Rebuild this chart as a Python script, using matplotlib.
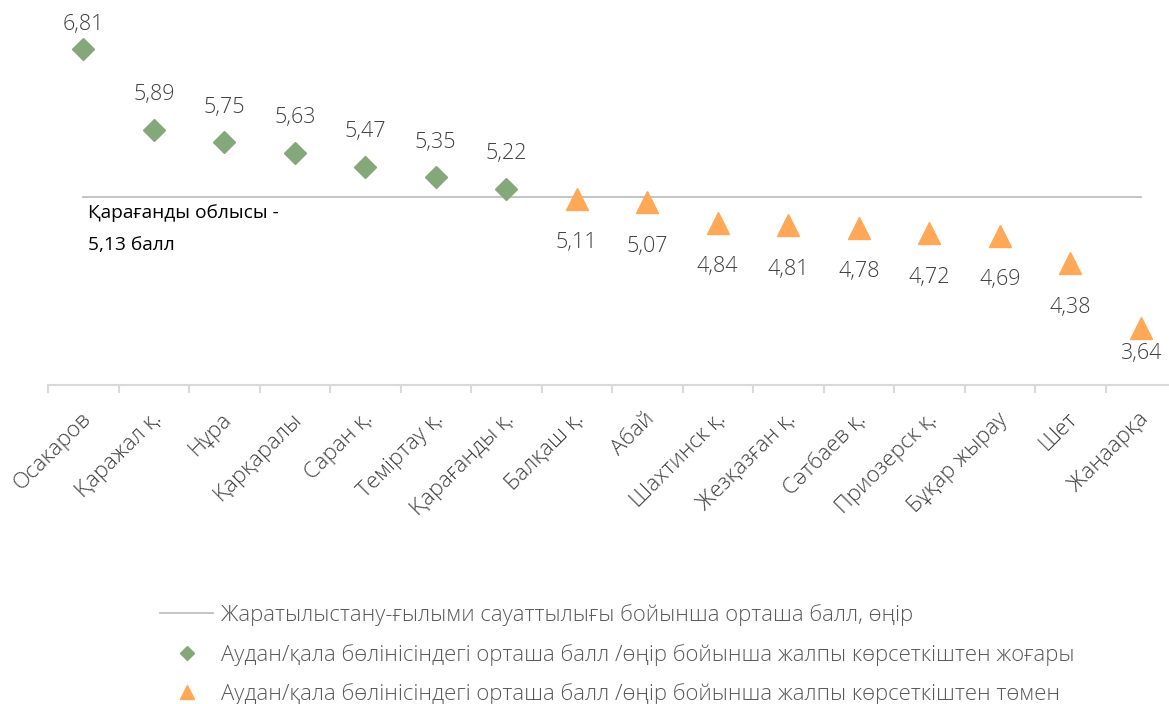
import numpy as np
import matplotlib
matplotlib.use("Agg")
import matplotlib.pyplot as plt
from matplotlib.lines import Line2D
from matplotlib.transforms import ScaledTranslation

plt.rcParams["font.family"] = ["Open Sans", "Noto Sans", "DejaVu Sans"]

# Деректер
regions = ["Осакаров", "Қаражал қ.", "Нұра", "Қарқаралы", "Саран қ.", "Теміртау қ.",
           "Қарағанды қ.", "Балқаш қ.", "Абай", "Шахтинск қ.", "Жезқазған қ.",
           "Сәтбаев қ.", "Приозерск қ.", "Бұқар жырау", "Шет", "Жаңаарқа"]
scores = [6.81, 5.89, 5.75, 5.63, 5.47, 5.35, 5.22, 5.11, 5.07, 4.84, 4.81,
          4.78, 4.72, 4.69, 4.38, 3.64]
region_avg = 5.13

legend_labels = ["Жаратылыстану-ғылыми сауаттылығы бойынша орташа балл, өңір",
                 "Аудан/қала бөлінісіндегі орташа балл /өңір бойынша жалпы көрсеткіштен жоғары",
                 "Аудан/қала бөлінісіндегі орташа балл /өңір бойынша жалпы көрсеткіштен төмен"]

green = "#84A87A"
orange = "#FFA858"
grey_line = "#BFBFBF"

fig = plt.figure(figsize=(11.69, 7.04), dpi=100)
W, H = 1169, 704
ax = fig.add_axes([48 / W, 1 - 385 / H, (1169 - 48) / W, 353.2 / H])

x = np.arange(len(regions))
scores = np.array(scores)
above = scores > region_avg

# орташа сызық
ax.plot([x[0], x[-1]], [region_avg, region_avg], color=grey_line, lw=1.3, zorder=1)

ax.plot(x[above], scores[above], linestyle="none", marker="D", ms=11.5,
        color=green, zorder=3)
ax.plot(x[~above], scores[~above], linestyle="none", marker="^", ms=16,
        color=orange, zorder=3)

# мәндер жазбалары
for i, v in enumerate(scores):
    txt = f"{v:.2f}".replace(".", ",")
    if above[i]:
        off = 24 if i == 0 else 35
    else:
        off = -25 if i == len(scores) - 1 else -44
    ax.annotate(txt, (i, v), xytext=(0, off * 0.72), textcoords="offset points",
                ha="center", va="center", fontsize=15.5, color="#404040",
                fontweight="light")

ax.text(0.07, 4.95, "Қарағанды облысы -", fontsize=13.8, color="black",
        va="center", ha="left")
ax.text(0.07, 4.58, "5,13 балл", fontsize=13.8, color="black",
        va="center", ha="left")

for s in ["top", "right", "left"]:
    ax.spines[s].set_visible(False)
ax.spines["bottom"].set_color("#D9D9D9")
ax.spines["bottom"].set_linewidth(1.5)
ax.set_yticks([])

ax.set_xticks(x)
ax.set_xticklabels(regions, rotation=45, ha="right", rotation_mode="anchor",
                   fontsize=16, color="#404040", fontweight="light")
ax.tick_params(axis="x", which="major", length=0, pad=17)
ax.set_xticks(np.arange(len(regions) + 1) - 0.5, minor=True)
ax.tick_params(axis="x", which="minor", length=5.5, width=1.5, color="#D9D9D9")
shift = ScaledTranslation(-3 / 100, 0, fig.dpi_scale_trans)
for lab in ax.get_xticklabels():
    lab.set_transform(lab.get_transform() + shift)

# шектерді тиктерден кейін қою
ax.set_xlim(-0.5, 15.4)
ax.set_ylim(3, 7)

handles = [Line2D([], [], color=grey_line, lw=1.3),
           Line2D([], [], linestyle="none", marker="D", ms=7, color=green),
           Line2D([], [], linestyle="none", marker="^", ms=10, color=orange)]
leg = fig.legend(handles, legend_labels, loc="upper left",
                 bbox_to_anchor=(160 / W, 1 - 604 / H), frameon=False,
                 fontsize=15.9, handlelength=2.4, handletextpad=0.35,
                 labelspacing=0.8, borderpad=0, borderaxespad=0)
for t in leg.get_texts():
    t.set_color("#595959")
    t.set_fontweight("light")

fig.savefig("out.png", dpi=100)
